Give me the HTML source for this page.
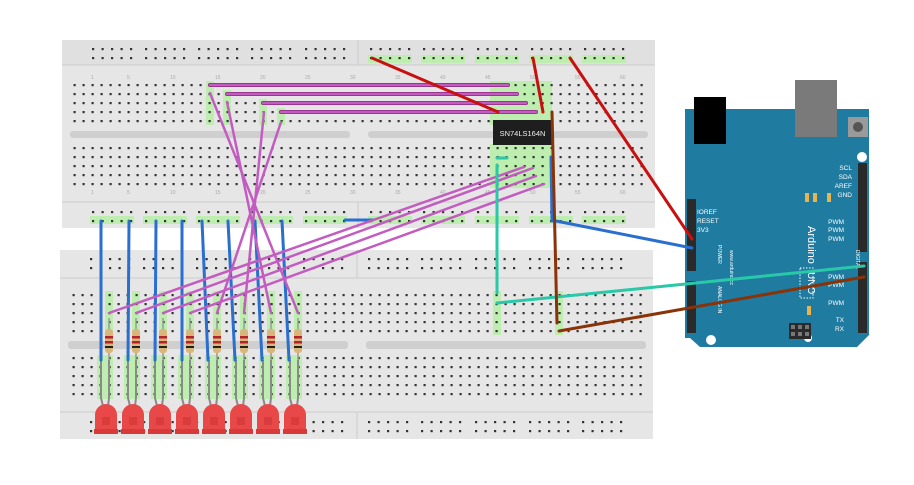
<!DOCTYPE html>
<html><head><meta charset="utf-8"><style>
html,body{margin:0;padding:0;background:#fff;width:914px;height:485px;overflow:hidden}
svg{display:block}
text{font-family:"Liberation Sans",sans-serif}
</style></head><body>
<svg width="914" height="485" viewBox="0 0 914 485" xmlns="http://www.w3.org/2000/svg">
<defs>
<pattern id="pt" patternUnits="userSpaceOnUse" x="73.5" y="84" width="9" height="9"><rect width="2.2" height="2.2" fill="#333"/></pattern>
<pattern id="pb" patternUnits="userSpaceOnUse" x="72.5" y="294" width="9" height="9"><rect width="2.2" height="2.2" fill="#333"/></pattern>
<g id="g5"><g fill="#333"><rect x="0" y="0" width="2.2" height="2.2"/><rect x="9.5" y="0" width="2.2" height="2.2"/><rect x="19" y="0" width="2.2" height="2.2"/><rect x="28.5" y="0" width="2.2" height="2.2"/><rect x="38" y="0" width="2.2" height="2.2"/><rect x="0" y="9" width="2.2" height="2.2"/><rect x="9.5" y="9" width="2.2" height="2.2"/><rect x="19" y="9" width="2.2" height="2.2"/><rect x="28.5" y="9" width="2.2" height="2.2"/><rect x="38" y="9" width="2.2" height="2.2"/></g></g>
<g id="rails"><use href="#g5" x="92"/><use href="#g5" x="145"/><use href="#g5" x="198"/><use href="#g5" x="251"/><use href="#g5" x="305"/><use href="#g5" x="370"/><use href="#g5" x="423"/><use href="#g5" x="477"/><use href="#g5" x="531"/><use href="#g5" x="584"/></g>
<g id="led"><path d="M-11,26 L-11,8 A11,11 0 0 1 11,8 L11,26 Z" fill="#e84848"/><rect x="-12" y="22" width="24" height="5" fill="#d83a3a"/><rect x="-4" y="10" width="8" height="8" fill="#c83030" opacity="0.5"/></g>
<g id="res"><rect x="-4" y="0" width="8" height="24" rx="3" fill="#d9b77a"/><rect x="-4" y="7" width="8" height="2.5" fill="#b8202a"/><rect x="-4" y="12" width="8" height="2.5" fill="#b8202a"/><rect x="-4" y="17" width="8" height="2" fill="#222"/></g>
</defs>

<!-- TOP BREADBOARD -->
<rect x="62" y="40" width="593" height="188" fill="#e6e6e6"/>
<rect x="62" y="40" width="593" height="25" fill="#e0e0e0"/>
<line x1="62" y1="65" x2="655" y2="65" stroke="#ccc"/>
<line x1="62" y1="202" x2="655" y2="202" stroke="#ccc"/>
<line x1="358" y1="40" x2="358" y2="65" stroke="#ccc"/>
<line x1="358" y1="202" x2="358" y2="228" stroke="#ccc"/>
<rect x="70" y="131" width="280" height="7" rx="3" fill="#cfcfcf"/>
<rect x="368" y="131" width="280" height="7" rx="3" fill="#cfcfcf"/>
<g fill="#bdeeb0">
<rect x="490" y="81" width="62" height="44"/><rect x="490" y="144" width="62" height="44"/>
<rect x="206" y="81" width="8" height="44"/><rect x="223" y="90" width="8" height="35"/><rect x="259" y="99" width="8" height="26"/><rect x="277" y="108" width="8" height="17"/>
<rect x="90" y="216" width="44" height="8"/><rect x="143" y="216" width="44" height="8"/><rect x="196" y="216" width="44" height="8"/><rect x="249" y="216" width="44" height="8"/><rect x="303" y="216" width="44" height="8"/><rect x="368" y="216" width="44" height="8"/><rect x="421" y="216" width="44" height="8"/><rect x="475" y="216" width="44" height="8"/><rect x="529" y="216" width="44" height="8"/><rect x="582" y="216" width="44" height="8"/>
<rect x="368" y="55" width="44" height="8"/><rect x="421" y="55" width="44" height="8"/><rect x="475" y="55" width="44" height="8"/><rect x="529" y="55" width="44" height="8"/><rect x="582" y="55" width="44" height="8"/>
</g>
<rect x="72" y="83" width="574" height="42" fill="url(#pt)"/>
<rect x="72" y="146" width="574" height="42" fill="url(#pt)"/>
<use href="#rails" y="48"/>
<use href="#rails" y="211"/>
<g font-size="5" fill="#aaa">
<text x="91" y="79">1</text><text x="127" y="79">5</text><text x="170" y="79">10</text><text x="215" y="79">15</text><text x="260" y="79">20</text><text x="305" y="79">25</text><text x="350" y="79">30</text><text x="395" y="79">35</text><text x="440" y="79">40</text><text x="485" y="79">45</text><text x="530" y="79">50</text><text x="575" y="79">55</text><text x="620" y="79">60</text>
<text x="91" y="194">1</text><text x="127" y="194">5</text><text x="170" y="194">10</text><text x="215" y="194">15</text><text x="260" y="194">20</text><text x="305" y="194">25</text><text x="350" y="194">30</text><text x="395" y="194">35</text><text x="440" y="194">40</text><text x="485" y="194">45</text><text x="530" y="194">50</text><text x="575" y="194">55</text><text x="620" y="194">60</text>
</g>

<!-- BOTTOM BREADBOARD -->
<rect x="60" y="250" width="593" height="189" fill="#e6e6e6"/>
<line x1="60" y1="278" x2="653" y2="278" stroke="#ccc"/>
<line x1="60" y1="412" x2="653" y2="412" stroke="#ccc"/>
<line x1="357" y1="250" x2="357" y2="278" stroke="#ccc"/>
<line x1="357" y1="412" x2="357" y2="439" stroke="#ccc"/>
<rect x="68" y="341" width="280" height="8" rx="3" fill="#cfcfcf"/>
<rect x="366" y="341" width="280" height="8" rx="3" fill="#cfcfcf"/>
<g fill="#bdeeb0">
<rect x="97" y="355" width="16" height="44"/><rect x="124" y="355" width="16" height="44"/><rect x="151" y="355" width="16" height="44"/><rect x="178" y="355" width="16" height="44"/><rect x="205" y="355" width="16" height="44"/><rect x="232" y="355" width="16" height="44"/><rect x="259" y="355" width="16" height="44"/><rect x="286" y="355" width="16" height="44"/>
<rect x="105" y="291" width="8" height="44"/><rect x="132" y="291" width="8" height="44"/><rect x="159" y="291" width="8" height="44"/><rect x="186" y="291" width="8" height="44"/><rect x="213" y="291" width="8" height="44"/><rect x="240" y="291" width="8" height="44"/><rect x="267" y="291" width="8" height="44"/><rect x="294" y="291" width="8" height="44"/>
<rect x="493" y="291" width="8" height="44"/><rect x="555" y="291" width="8" height="44"/>
</g>
<rect x="70" y="293" width="574" height="42" fill="url(#pb)"/>
<rect x="70" y="356" width="574" height="42" fill="url(#pb)"/>
<use href="#rails" x="-2" y="258"/>
<use href="#rails" x="-2" y="421"/>

<g stroke="#8a8a8a" stroke-width="2" fill="none">
<path d="M101,360 V398 L103,406 M109,360 V398 L108,406"/>
<path d="M128,360 V398 L130,406 M136,360 V398 L135,406"/>
<path d="M155,360 V398 L157,406 M163,360 V398 L162,406"/>
<path d="M182,360 V398 L184,406 M190,360 V398 L189,406"/>
<path d="M209,360 V398 L211,406 M217,360 V398 L216,406"/>
<path d="M236,360 V398 L238,406 M244,360 V398 L243,406"/>
<path d="M263,360 V398 L265,406 M271,360 V398 L270,406"/>
<path d="M290,360 V398 L292,406 M298,360 V398 L297,406"/>
</g>
<g><use href="#led" x="106" y="407"/><use href="#led" x="133" y="407"/><use href="#led" x="160" y="407"/><use href="#led" x="187" y="407"/><use href="#led" x="214" y="407"/><use href="#led" x="241" y="407"/><use href="#led" x="268" y="407"/><use href="#led" x="295" y="407"/></g>
<g stroke="#999" stroke-width="1.5"><line x1="109" y1="318" x2="109" y2="360"/><line x1="136" y1="318" x2="136" y2="360"/><line x1="163" y1="318" x2="163" y2="360"/><line x1="190" y1="318" x2="190" y2="360"/><line x1="217" y1="318" x2="217" y2="360"/><line x1="244" y1="318" x2="244" y2="360"/><line x1="271" y1="318" x2="271" y2="360"/><line x1="298" y1="318" x2="298" y2="360"/></g>
<g><use href="#res" x="109" y="329"/><use href="#res" x="136" y="329"/><use href="#res" x="163" y="329"/><use href="#res" x="190" y="329"/><use href="#res" x="217" y="329"/><use href="#res" x="244" y="329"/><use href="#res" x="271" y="329"/><use href="#res" x="298" y="329"/></g>

<!-- CHIP -->
<rect x="493" y="120" width="59" height="25" fill="#1e1e1e"/>
<text x="522.5" y="136" font-size="7.5" fill="#eee" text-anchor="middle" font-family="Liberation Mono">SN74LS164N</text>

<!-- ARDUINO -->
<path d="M685,109 H869 V335 L857,347 H700 L690,338 H685 Z" fill="#1f7ba0"/>
<rect x="694" y="97" width="32" height="47" fill="#000"/>
<rect x="795" y="80" width="42" height="57" fill="#7a7a7a"/>
<rect x="848" y="117" width="20" height="20" fill="#9a9a9a"/><circle cx="858" cy="127" r="5" fill="#555"/>
<circle cx="862" cy="157" r="5" fill="#fff"/><circle cx="711" cy="340" r="5" fill="#fff"/><circle cx="808" cy="338" r="4" fill="#fff"/>
<rect x="687" y="199" width="9" height="72" fill="#2a2a2a"/>
<rect x="687" y="281" width="9" height="52" fill="#2a2a2a"/>
<rect x="858" y="163" width="9" height="89" fill="#2a2a2a"/>
<rect x="858" y="262" width="9" height="71" fill="#2a2a2a"/>
<rect x="789" y="323" width="22" height="16" fill="#2a2a2a"/>
<g fill="#777"><rect x="791" y="325" width="4" height="4"/><rect x="798" y="325" width="4" height="4"/><rect x="805" y="325" width="4" height="4"/><rect x="791" y="332" width="4" height="4"/><rect x="798" y="332" width="4" height="4"/><rect x="805" y="332" width="4" height="4"/></g>
<g fill="#e9b44c"><rect x="805" y="193" width="4" height="9"/><rect x="813" y="193" width="4" height="9"/><rect x="827" y="193" width="4" height="9"/><rect x="807" y="306" width="4" height="9"/></g>
<g font-size="6.5" fill="#fff">
<text x="697" y="214">IOREF</text><text x="697" y="223">RESET</text><text x="697" y="232">3V3</text>
<text x="852" y="170" text-anchor="end">SCL</text><text x="852" y="179" text-anchor="end">SDA</text><text x="852" y="188" text-anchor="end">AREF</text><text x="852" y="197" text-anchor="end">GND</text>
<text x="844" y="224" text-anchor="end">PWM</text><text x="844" y="232" text-anchor="end">PWM</text><text x="844" y="241" text-anchor="end">PWM</text>
<text x="844" y="279" text-anchor="end">PWM</text><text x="844" y="287" text-anchor="end">PWM</text><text x="844" y="305" text-anchor="end">PWM</text>
<text x="844" y="322" text-anchor="end">TX</text><text x="844" y="331" text-anchor="end">RX</text>
</g>
<text transform="translate(808,226) rotate(90)" font-size="11" fill="#fff">Arduino</text>
<text transform="translate(808,272) rotate(90)" font-size="10" fill="#fff">UNO</text>
<rect x="800" y="268" width="13" height="30" fill="none" stroke="#fff" stroke-dasharray="1.5 1.5"/>
<text transform="translate(718,245) rotate(90)" font-size="5" fill="#fff">POWER</text>
<text transform="translate(718,286) rotate(90)" font-size="5" fill="#fff">ANALOG IN</text>
<text transform="translate(730,250) rotate(90)" font-size="5" fill="#fff">www.arduino.cc</text>
<text transform="translate(856,250) rotate(90)" font-size="5" fill="#fff">DIGITAL</text>

<!-- WIRES -->
<g stroke-linecap="round" fill="none">
<g stroke="#2a6fd0" stroke-width="3">
<line x1="101" y1="221" x2="101" y2="360"/><line x1="129" y1="221" x2="128" y2="360"/><line x1="156" y1="221" x2="155" y2="360"/><line x1="182" y1="221" x2="182" y2="360"/><line x1="202" y1="221" x2="208" y2="360"/><line x1="228" y1="221" x2="235" y2="360"/><line x1="255" y1="221" x2="262" y2="360"/><line x1="282" y1="221" x2="289" y2="360"/>
<line x1="345" y1="220" x2="373" y2="220"/>
<line x1="551" y1="157" x2="552" y2="221"/>
<line x1="556" y1="221" x2="692" y2="248"/>
</g>
<g stroke="#8a2a80" stroke-width="4"><line x1="210" y1="85" x2="508" y2="85"/><line x1="227" y1="94" x2="517" y2="94"/><line x1="263" y1="103" x2="526" y2="103"/><line x1="281" y1="112" x2="536" y2="112"/></g>
<g stroke="#c35cc0" stroke-width="2.5">
<line x1="210" y1="85" x2="508" y2="85"/><line x1="227" y1="94" x2="517" y2="94"/><line x1="263" y1="103" x2="526" y2="103"/><line x1="281" y1="112" x2="536" y2="112"/>
<line x1="210" y1="93" x2="298" y2="313"/><line x1="227" y1="102" x2="271" y2="313"/><line x1="264" y1="112" x2="244" y2="313"/><line x1="281" y1="122" x2="217" y2="313"/>
<line x1="524" y1="167" x2="109" y2="313"/><line x1="533" y1="168" x2="136" y2="313"/><line x1="536" y1="176" x2="163" y2="313"/><line x1="544" y1="184" x2="190" y2="313"/>
</g>
<g stroke="#c81010" stroke-width="3"><line x1="372" y1="58" x2="498" y2="112"/><line x1="533" y1="58" x2="543" y2="112"/><line x1="570" y1="58" x2="692" y2="239"/></g>
<g stroke="#28c8a8" stroke-width="3"><line x1="497" y1="165" x2="497" y2="293"/><line x1="497" y1="158" x2="507" y2="158"/><line x1="497" y1="303" x2="864" y2="266"/></g>
<g stroke="#8a3208" stroke-width="3"><line x1="552" y1="112" x2="557" y2="323"/><line x1="559" y1="331" x2="864" y2="277"/></g>
</g>
</svg>
</body></html>
